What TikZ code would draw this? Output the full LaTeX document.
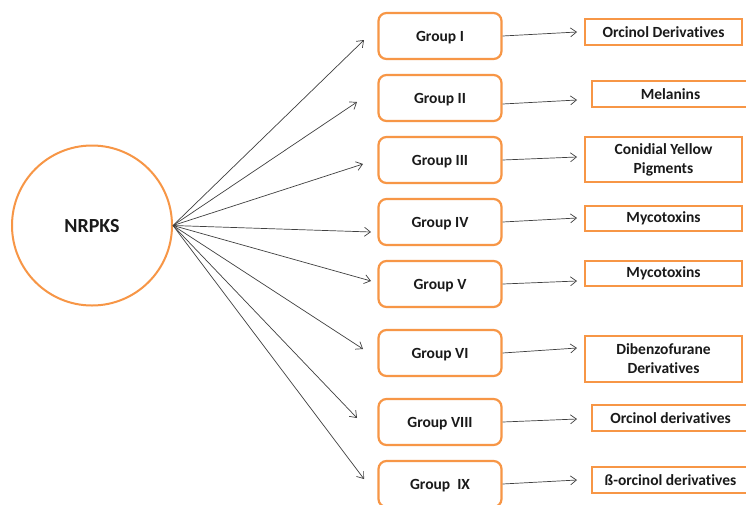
\documentclass[tikz,border=0pt]{standalone}
\usepackage{fontspec}
\setmainfont{Carlito}[Ligatures=NoCommon]
\usetikzlibrary{arrows.meta,calc}
\definecolor{orng}{HTML}{F79646}
\definecolor{txt}{HTML}{1A1A1A}
\definecolor{arr}{HTML}{404040}
\begin{document}
\begin{tikzpicture}[x=1pt,y=-1pt,
  hubc/.style={circle, draw=orng, line width=2pt, minimum size=160pt, inner sep=0pt, text=txt, text height=13pt, text depth=0pt, font=\bfseries\fontsize{20}{24}\selectfont},
  grp/.style={draw=orng, line width=2.2pt, rounded corners=8pt, minimum width=123pt, minimum height=46pt, inner sep=0pt, text=txt, text height=10pt, text depth=0pt, font=\bfseries\fontsize{15.5}{19}\selectfont},
  prod/.style={draw=orng, line width=2.5pt, minimum width=157pt, inner sep=0pt, align=center, text=txt, font=\bfseries\fontsize{15.5}{19}\selectfont},
  link/.style={draw=arr, line width=0.7pt, -{Straight Barb[length=6pt,width=9pt]}}]
\clip (0,0) rectangle (746,504);
\fill[white] (0,0) rectangle (746,504);
% hub
\node[hubc] (nrpks) at (92,225.5) {NRPKS};
% groups
\node[grp] (g1) at (440,36) {Group I};
\node[grp] (g2) at (440,98) {Group II};
\node[grp] (g3) at (440,160) {Group III};
\node[grp] (g4) at (440,222) {Group IV};
\node[grp] (g5) at (440,284) {Group V};
\node[grp] (g6) at (440,353) {Group VI};
\node[grp] (g7) at (440,422) {Group VIII};
\node[grp] (g8) at (440,484) {Group\ \ IX};
% products
\node[prod, minimum height=26pt] (p1) at (663.5,32) {Orcinol Derivatives};
\node[prod, minimum height=26pt] (p2) at (670.5,94) {Melanins};
\node[prod, minimum height=45pt] (p3) at (663.5,159.5) {Conidial Yellow\\Pigments};
\node[prod, minimum height=25pt] (p4) at (663.5,218.5) {Mycotoxins};
\node[prod, minimum height=25pt] (p5) at (663.5,273.5) {Mycotoxins};
\node[prod, minimum height=46pt] (p6) at (663.5,359) {Dibenzofurane\\Derivatives};
\node[prod, minimum height=26pt] (p7) at (670.5,418) {Orcinol derivatives};
\node[prod, minimum height=26pt] (p8) at (670.5,480) {ß-orcinol derivatives};
% arrow end points from hub
\coordinate (h) at (nrpks.east);
\coordinate (a1) at (364,40);
\coordinate (a2) at (357,102);
\coordinate (a3) at (363,164);
\coordinate (a4) at (371,232);
\coordinate (a5) at (371,281);
\coordinate (a6) at (363,349);
\coordinate (a7) at (357,418);
\coordinate (a8) at (364,479);
\foreach \i in {1,...,8} \draw[link] (h) -- (a\i);
% group -> product arrows
\coordinate (e1) at (577,32);
\coordinate (e2) at (577,100);
\coordinate (e3) at (577,157);
\coordinate (e4) at (577,218);
\coordinate (e5) at (577,281);
\coordinate (e6) at (577,348);
\coordinate (e7) at (577,419);
\coordinate (e8) at (577,480);
\draw[link] (g1.east) -- (e1);
\draw[link] ($(g2.east)+(0,6)$) -- (e2);
\draw[link] (g3.east) -- (e3);
\draw[link] (g4.east) -- (e4);
\draw[link] (g5.east) -- (e5);
\draw[link] (g6.east) -- (e6);
\draw[link] (g7.east) -- (e7);
\draw[link] (g8.east) -- (e8);
\end{tikzpicture}
\end{document}
